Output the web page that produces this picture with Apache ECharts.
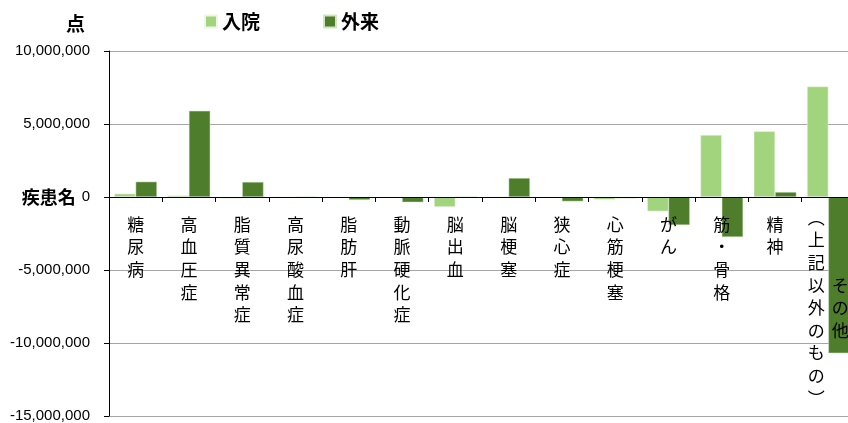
<!DOCTYPE html>
<html><head><meta charset="utf-8">
<script src="https://cdn.jsdelivr.net/npm/echarts@6/dist/echarts.min.js"></script>
<style>html,body{margin:0;padding:0;background:#fff}#c{width:848px;height:423px}</style>
</head><body><div id="c"></div>
<script>
const categories = ['糖尿病','高血圧症','脂質異常症','高尿酸血症','脂肪肝','動脈硬化症','脳出血','脳梗塞','狭心症','心筋梗塞','がん','筋・骨格','精神','その他（上記以外のもの）'];
const inpatient = [230000, 100000, -100000, 0, -30000, -30000, -680000, 0, -30000, -180000, -980000, 4250000, 4500000, 7570000];
const outpatient = [1050000, 5900000, 1030000, 0, -200000, -360000, 0, 1300000, -300000, -90000, -1920000, -2740000, 340000, -10700000];
const yTicks = {min: -15000000, max: 10000000, interval: 5000000};
const seriesNames = ['入院', '外来'];

const JP = '"Noto Sans CJK JP", "Noto Sans", sans-serif';
function vertical(label) {
  const m = label.match(/^(.*?)（(.*)）$/);
  if (!m) return '{s| }\n' + label.split('').map(ch => '{c|' + ch + '}').join('\n');
  const left = ['︵'].concat(m[2].split('')).concat(['︶']);
  const right = m[1].split('');
  const off = Math.floor((left.length - right.length) / 2);
  return left.map((ch, i) => {
    const r = right[i - off] || '　';
    return '{c|' + ch + '}{c|' + r + '}';
  }).join('\n');
}
const chart = echarts.init(document.getElementById('c'));
chart.setOption({
  animation: false,
  legend: {
    top: 12, left: 204, padding: 0, itemGap: 63, itemWidth: 12, itemHeight: 12,
    icon: 'rect',
    textStyle: {fontFamily: JP, fontSize: 19, color: '#000', fontWeight: 'bold'},
    data: seriesNames
  },
  grid: {left: 109, right: -7, top: 51, bottom: 7, outerBoundsMode: 'none', containLabel: false},
  xAxis: {
    type: 'category', data: categories, z: 5, offset: -219,
    name: '疾患名', nameLocation: 'start', nameGap: 28,
    nameTextStyle: {fontFamily: JP, fontSize: 18, color: '#000', fontWeight: 'bold', verticalAlign: 'middle'},
    axisLine: {onZero: false, lineStyle: {color: '#000', width: 1}},
    axisTick: {show: true, length: 5, lineStyle: {color: '#000'}},
    axisLabel: {
      interval: 0, margin: 9, verticalAlign: 'top', hideOverlap: false,
      formatter: vertical,
      rich: {
        c: {fontFamily: JP, fontSize: 17, lineHeight: 22.6, color: '#000', width: 24, align: 'center'},
        s: {fontSize: 1, lineHeight: 7, height: 7}
      }
    }
  },
  yAxis: {
    type: 'value', min: yTicks.min, max: yTicks.max, interval: yTicks.interval,
    name: '点', nameLocation: 'end', nameGap: 18,
    nameTextStyle: {fontFamily: JP, fontSize: 19, color: '#000', fontWeight: 'bold', align: 'right', padding: [0, 24, 0, 0]},
    axisLine: {show: true, lineStyle: {color: '#000'}},
    axisTick: {show: true, length: 5, lineStyle: {color: '#000'}},
    axisLabel: {
      fontFamily: '"Liberation Sans", Arial, sans-serif', fontSize: 15, color: '#000', margin: 19,
      formatter: v => v.toLocaleString('en-US')
    },
    splitLine: {lineStyle: {color: '#a6a6a6', width: 1}}
  },
  series: [
    {name: seriesNames[0], type: 'bar', data: inpatient, barGap: '0%', barCategoryGap: '20%',
     itemStyle: {color: '#a2d47e', borderColor: '#eef6e8', borderWidth: 0.5}},
    {name: seriesNames[1], type: 'bar', data: outpatient, barGap: '0%', barCategoryGap: '20%',
     itemStyle: {color: '#4e7d2b', borderColor: '#cfe5c0', borderWidth: 0.5}}
  ]
});
</script></body></html>
